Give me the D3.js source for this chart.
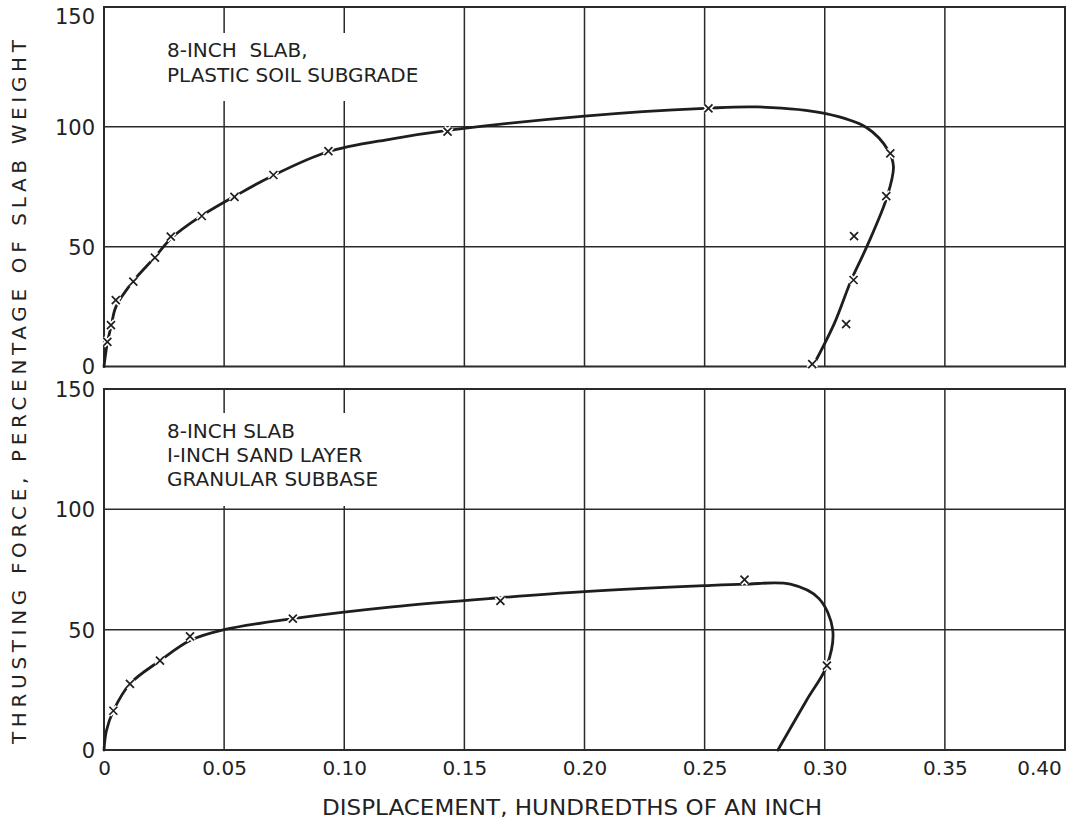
<!DOCTYPE html>
<html>
<head>
<meta charset="utf-8">
<script src="https://cdn.jsdelivr.net/npm/d3@7"></script>
<style>
  html, body { margin: 0; padding: 0; background: #fff; }
  svg { display: block; }
  text { font-family: "DejaVu Sans", "Liberation Sans", sans-serif; fill: #222; }
</style>
</head>
<body>
<svg id="chart" width="1072" height="824"></svg>
<script>
// Axis ticks
const xTicks = [0, 0.05, 0.10, 0.15, 0.20, 0.25, 0.30, 0.35, 0.40];
const xTickLabels = ["0", "0.05", "0.10", "0.15", "0.20", "0.25", "0.30", "0.35", "0.40"];
const yTicks = [0, 50, 100, 150];
const yTickLabels = ["0", "50", "100", "150"];

// Plastic soil subgrade: measured points (displacement, force %)
const plasticX = [0.0014, 0.0029, 0.0049, 0.0122, 0.0212, 0.0278, 0.0407, 0.0543, 0.0705, 0.0934, 0.143, 0.2516, 0.3273, 0.3256, 0.3122, 0.3120, 0.3089, 0.2948];
const plasticY = [10.3, 17.3, 27.7, 35.4, 45.4, 54.2, 62.8, 70.8, 79.9, 89.9, 98.0, 107.7, 88.9, 71.1, 54.4, 36.1, 17.7, 1.0];
// Plastic soil subgrade: faired curve
const plasticCurveX = [0, 0.0005, 0.0014, 0.003, 0.005, 0.012, 0.021, 0.028, 0.040, 0.054, 0.070, 0.093, 0.120, 0.143, 0.200, 0.250, 0.272, 0.300, 0.3175, 0.3265, 0.3286, 0.326, 0.3175, 0.311, 0.304, 0.295];
const plasticCurveY = [0, 4, 10, 17, 25, 35.4, 45.4, 53.5, 62.5, 70.8, 79.5, 89.5, 95, 98.5, 104.5, 107.7, 108.3, 105.6, 99.6, 90, 83.4, 71, 50, 36, 18, 0];

// Sand layer on granular subbase: measured points
const sandX = [0.0039, 0.0108, 0.0233, 0.0358, 0.0786, 0.165, 0.2666, 0.3009];
const sandY = [16.3, 27.5, 37.1, 47.2, 54.6, 62.0, 70.8, 35.1];
// Sand layer on granular subbase: faired curve
const sandCurveX = [0, 0.001, 0.0039, 0.0108, 0.0233, 0.0358, 0.050, 0.0786, 0.120, 0.165, 0.200, 0.250, 0.2666, 0.2857, 0.2975, 0.3033, 0.3009, 0.2925, 0.2805];
const sandCurveY = [0, 8, 16.3, 27.5, 37.1, 45.5, 50, 54.6, 59.5, 63.3, 65.8, 68.3, 68.9, 68.9, 63, 50, 35.1, 20.8, 0];

const plasticNote = ["8-INCH  SLAB,", "PLASTIC SOIL SUBGRADE"];
const sandNote = ["8-INCH SLAB", "I-INCH SAND LAYER", "GRANULAR SUBBASE"];

const ink = "#2a2a2a";
const svg = d3.select("#chart");

const x = d3.scaleLinear().domain([0, 0.40]).range([104, 1065]);

const panels = [
  { top: 7, bottom: 366.5, ptsX: plasticX, ptsY: plasticY, cX: plasticCurveX, cY: plasticCurveY,
    note: plasticNote, noteX: 167, noteY: 57, noteStep: 25, box: [150, 33, 310, 68] },
  { top: 389, bottom: 750, ptsX: sandX, ptsY: sandY, cX: sandCurveX, cY: sandCurveY,
    note: sandNote, noteX: 167, noteY: 438, noteStep: 24, box: [150, 413, 270, 93] }
];

panels.forEach((p, pi) => {
  const y = d3.scaleLinear().domain([0, 150]).range([p.bottom, p.top]);
  const g = svg.append("g");

  // grid
  g.append("g").selectAll("line.v").data(xTicks.slice(1, -1)).join("line")
    .attr("x1", d => x(d)).attr("x2", d => x(d))
    .attr("y1", p.top).attr("y2", p.bottom)
    .attr("stroke", ink).attr("stroke-width", 1.5);
  g.append("g").selectAll("line.h").data(yTicks.slice(1, -1)).join("line")
    .attr("x1", x(0)).attr("x2", x(0.40))
    .attr("y1", d => y(d)).attr("y2", d => y(d))
    .attr("stroke", ink).attr("stroke-width", 1.5);

  // frame
  g.append("rect")
    .attr("x", x(0)).attr("y", p.top)
    .attr("width", x(0.40) - x(0)).attr("height", p.bottom - p.top)
    .attr("fill", "none").attr("stroke", ink).attr("stroke-width", 2);

  // note with blank background
  g.append("rect").attr("x", p.box[0]).attr("y", p.box[1])
    .attr("width", p.box[2]).attr("height", p.box[3]).attr("fill", "#fff");
  g.append("g").selectAll("text").data(p.note).join("text")
    .attr("x", p.noteX).attr("y", (d, i) => p.noteY + i * p.noteStep)
    .attr("font-size", 20).attr("xml:space", "preserve")
    .text(d => d);

  // y axis
  const ya = g.append("g").attr("transform", `translate(${x(0)},0)`)
    .call(d3.axisLeft(y).tickValues(yTicks).tickFormat((d, i) => yTickLabels[i]).tickSize(0).tickPadding(9));
  ya.select(".domain").remove();
  ya.selectAll("text").attr("font-size", 21).attr("fill", ink)
    .attr("font-family", "DejaVu Sans, sans-serif")
    .attr("dy", d => (pi === 0 && d === 150) ? "0.8em" : "0.35em");

  // faired curve
  const pts = p.cX.map((v, i) => [v, p.cY[i]]);
  const line = d3.line().x(d => x(d[0])).y(d => y(d[1])).curve(d3.curveCatmullRom.alpha(0.5));
  g.append("path").datum(pts).attr("d", line)
    .attr("fill", "none").attr("stroke", "#1e1e1e").attr("stroke-width", 2.8)
    .attr("stroke-linecap", "round");

  // measured points as x marks
  const marks = p.ptsX.map((v, i) => [v, p.ptsY[i]]);
  const s = 4;
  const cross = `M${-s},${-s}L${s},${s}M${-s},${s}L${s},${-s}`;
  const mg = g.append("g").selectAll("g").data(marks).join("g")
    .attr("transform", d => `translate(${x(d[0])},${y(d[1])})`);
  mg.append("path").attr("d", cross).attr("stroke", "#fff").attr("stroke-width", 5);
  mg.append("path").attr("d", cross).attr("stroke", "#1e1e1e").attr("stroke-width", 1.7);

  // x axis under the lower panel
  if (pi === 1) {
    const xa = g.append("g").attr("transform", `translate(0,${p.bottom})`)
      .call(d3.axisBottom(x).tickValues(xTicks).tickFormat((d, i) => xTickLabels[i]).tickSize(0).tickPadding(11));
    xa.select(".domain").remove();
    xa.selectAll("text").attr("font-size", 20).attr("fill", ink)
      .attr("font-family", "DejaVu Sans, sans-serif")
      .attr("dx", d => d === 0.40 ? -26 : 0);
  }
});

// axis titles
svg.append("text")
  .attr("x", 572).attr("y", 815)
  .attr("text-anchor", "middle").attr("font-size", 21)
  .attr("textLength", 500).attr("lengthAdjust", "spacingAndGlyphs")
  .text("DISPLACEMENT, HUNDREDTHS OF AN  INCH");

svg.append("text")
  .attr("transform", "translate(26,392) rotate(-90)")
  .attr("text-anchor", "middle").attr("font-size", 20)
  .attr("textLength", 704).attr("lengthAdjust", "spacing")
  .text("THRUSTING  FORCE, PERCENTAGE OF  SLAB  WEIGHT");
</script>
</body>
</html>
